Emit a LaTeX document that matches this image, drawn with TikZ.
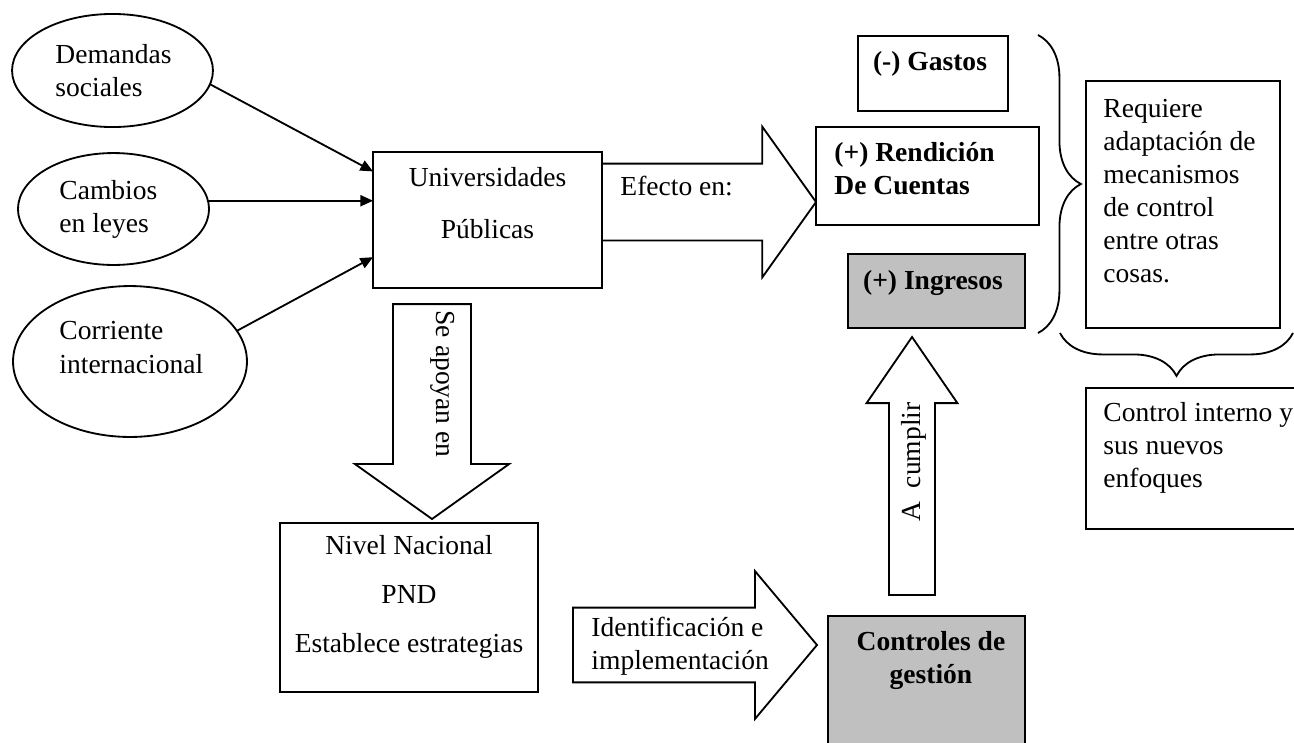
\documentclass[tikz,border=0pt]{standalone}
\usepackage{fontspec}
\setmainfont{Liberation Serif}
\usepackage{tikz}
\usetikzlibrary{shapes, shapes.arrows, arrows.meta, positioning, decorations.pathreplacing}

\definecolor{grisbox}{RGB}{192,192,192}

\tikzset{
    caja/.style={draw, line width=0.8pt, rectangle, inner sep=0pt, outer sep=0pt},
    elipse/.style={draw, line width=0.8pt, ellipse, inner sep=0pt, outer sep=0pt},
    texto/.style={font=\fontsize{12}{14.4}\selectfont, inner sep=0pt},
    negrita/.style={font=\fontsize{12}{14.4}\selectfont\bfseries, inner sep=0pt},
    flecha/.style={line width=0.8pt, -{Triangle[length=5.5pt, width=4.8pt]}},
    bloque/.style={draw, line width=0.8pt, fill=white, shape=single arrow, outer sep=0pt, anchor=tip},
    llave/.style={line width=0.8pt, decorate, decoration={brace, amplitude=18.7pt}}
}

\begin{document}
\begin{tikzpicture}[x=0.436pt, y=-0.436pt]
        \useasboundingbox (0, 0) rectangle (1294, 742);
        \clip (0, 0) rectangle (1294, 742);

        % causas
        \node[elipse, minimum width=87.6pt, minimum height=49.3pt] (dem) at (112.5, 70.5) {};
        \node[elipse, minimum width=83.3pt, minimum height=48.8pt] (cam) at (113.5, 209) {};
        \node[elipse, minimum width=102pt, minimum height=65.8pt] (cor) at (130, 361.5) {};
        \node[texto, align=left, anchor=west] (demtxt) at (55, 71) {Demandas\\sociales};
        \node[texto, align=left, anchor=west] (camtxt) at (59, 209) {Cambios\\en leyes};
        \node[texto, align=left, anchor=west] (cortxt) at (59, 347.5) {Corriente\\internacional};

        % cajas
        \node[caja, minimum width=99.8pt, minimum height=59.3pt] (uni) at (487.5, 220) {};
        \node[caja, minimum width=65.4pt, minimum height=32.7pt] (gastos) at (933, 73.5) {};
        \node[caja, minimum width=97.2pt, minimum height=42.7pt] (rend) at (927.5, 176) {};
        \node[caja, fill=grisbox, minimum width=77.2pt, minimum height=32.3pt] (ingr) at (936.5, 291) {};
        \node[caja, minimum width=84.6pt, minimum height=107.7pt] (req) at (1183, 204.5) {};
        \node[caja, minimum width=97.7pt, minimum height=61.5pt] (ctint) at (1198, 458.5) {};
        \node[caja, minimum width=112.5pt, minimum height=73.7pt] (nivel) at (409, 607.5) {};
        \node[caja, fill=grisbox, minimum width=85.9pt, minimum height=67.1pt] (ctges) at (926.5, 693) {};

        \node[texto, align=center] (unitxt) at (487.5, 203) {Universidades\\[8.3pt]Públicas};
        \node[negrita] (gastxt) at (930, 64) {(-) Gastos};
        \node[negrita, align=left, anchor=west] (rendtxt) at (834, 169) {(+) Rendición\\De Cuentas};
        \node[negrita] (ingtxt) at (933, 283) {(+) Ingresos};
        \node[texto, align=left, anchor=west] (reqtxt) at (1103, 191) {Requiere\\adaptación de\\mecanismos\\de control\\entre otras\\cosas.};
        \node[texto, align=left, anchor=west] (ctinttxt) at (1103, 447.5) {Control interno y\\sus nuevos\\enfoques};
        \node[texto, align=center] (niveltxt) at (409, 597) {Nivel Nacional\\[7pt]PND\\[7pt]Establece estrategias};
        \node[negrita, align=center] (ctgestxt) at (931, 660) {Controles de\\gestión};

        % flechas
        \draw[flecha] (dem.-8) -- (uni.157);
        \draw[flecha] (cam.5) -- (cam.5 -| uni.west);
        \draw[flecha] (cor.16) -- (uni.198);

        \node[bloque, minimum height=93.3pt, inner sep=16.35pt, single arrow head extend=16.1pt, single arrow tip angle=109] (efecto) at (816, 202) {};
        \node[bloque, shape border rotate=270, minimum height=93.7pt, inner sep=16.6pt, single arrow head extend=16.6pt, single arrow tip angle=109] (apoyan) at (432, 519) {};
        \node[bloque, shape border rotate=90, minimum height=112.5pt, inner sep=9.6pt, single arrow head extend=9.8pt, single arrow tip angle=69] (cumplir) at (912, 337) {};
        \node[bloque, minimum height=106.4pt, inner sep=15.9pt, single arrow head extend=15.9pt, single arrow tip angle=100] (ident) at (817, 645) {};

        \node[texto, anchor=west] (efectotxt) at (620, 186) {Efecto en:};
        \node[texto, rotate=-90] (apoyantxt) at (443, 384) {Se apoyan en};
        \node[texto, rotate=90] (cumplirtxt) at (914, 462) {A\ \ cumplir};
        \node[texto, align=left, anchor=west] (identtxt) at (591, 646) {Identificación e\\implementación};

        % llaves
        \draw[llave] (1038, 35) -- (1038, 333);
        \draw[llave] (1293, 333) -- (1060, 333);
    \end{tikzpicture}
\end{document}
